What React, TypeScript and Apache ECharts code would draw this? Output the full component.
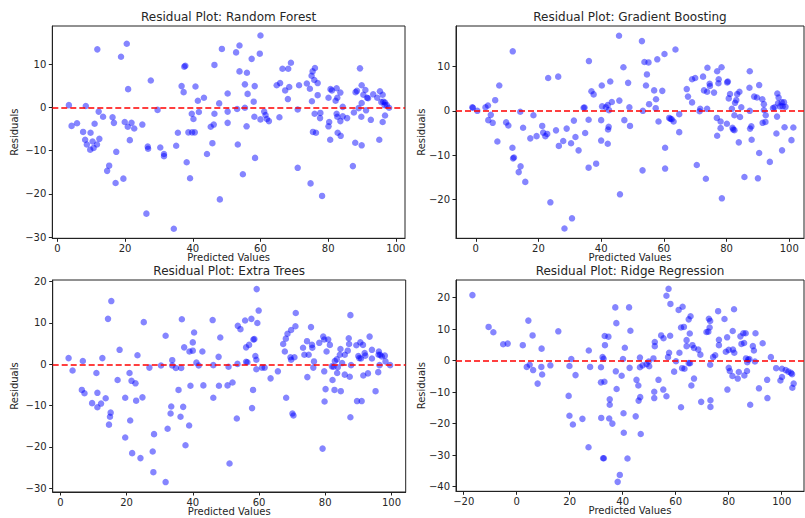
import React, { useEffect, useRef } from 'react';
import * as echarts from 'echarts';

const titles = [
  'Residual Plot: Random Forest',
  'Residual Plot: Gradient Boosting',
  'Residual Plot: Extra Trees',
  'Residual Plot: Ridge Regression',
];
const xLabel = 'Predicted Values';
const yLabel = 'Residuals';

const xTicksStd = [0, 20, 40, 60, 80, 100];
const xTicksRidge = [-20, 0, 20, 40, 60, 80, 100];
const yTicksRF = [-30, -20, -10, 0, 10];
const yTicksGB = [-20, -10, 0, 10];
const yTicksET = [-30, -20, -10, 0, 10, 20];
const yTicksRR = [-40, -30, -20, -10, 0, 10, 20];

const rfPoints = [
  [3.4, 0.5], [4.2, -4.3], [5.8, -3.7], [8.4, 0.3], [7.6, -5.7], [8.2, -7.5], [8.7, -8.6], [9.8, -5.9],
  [9.7, -9.8], [10.4, -7.9], [10.7, -9.4], [11.0, -3.8], [11.7, -8.6], [12.4, -7.3], [11.8, 13.4], [12.2, -1.0],
  [13.5, -2.2], [16.3, -2.3], [16.7, -3.6], [14.7, -14.7], [15.3, -13.5], [17.4, -10.3], [17.2, -17.5], [18.8, 11.7],
  [20.5, 14.7], [20.9, 4.2], [19.9, -3.4], [20.8, -4.5], [21.4, -7.6], [21.9, -3.6], [22.7, -4.9], [19.5, -16.5],
  [25.1, -4.0], [27.6, 6.2], [26.7, -9.1], [26.8, -9.6], [26.3, -24.6], [29.6, -0.6], [30.4, -9.3], [31.5, -10.8],
  [31.5, -11.3], [34.4, -28.1], [35.1, -8.9], [35.6, -5.9], [36.7, 4.9], [37.3, 3.5], [37.8, 9.6], [37.5, 9.4],
  [38.2, -12.7], [39.2, -16.4], [38.7, -5.8], [39.8, -5.8], [40.6, -5.8], [39.7, -1.5], [40.2, -2.7], [40.8, 4.8],
  [41.5, 1.5], [41.8, -1.1], [43.3, 2.2], [44.2, -10.8], [45.3, -4.5], [46.2, -4.0], [45.8, -8.3], [46.4, -1.5],
  [46.4, 9.8], [48.0, -21.3], [47.8, 0.9], [48.6, 13.5], [50.3, 3.2], [50.3, -1.0], [50.3, -3.6],
  [52.8, 12.7], [53.8, 14.3], [53.8, 8.3], [53.1, -0.4], [53.3, -8.6], [54.8, -15.5], [55.4, 5.3], [56.0, 8.0],
  [56.2, 3.1], [55.4, -0.1], [55.9, -4.4], [57.4, 11.2], [58.0, 1.3], [58.3, 4.9], [58.2, -2.2], [58.4, -11.7],
  [59.8, 12.4], [60.0, 16.6], [60.0, -2.8], [61.1, -1.0], [61.5, -1.8], [61.9, -2.7], [62.5, -3.2], [64.8, 5.1],
  [65.8, 5.6], [65.6, -2.3], [66.5, 8.9], [67.3, 3.9], [68.2, 8.9], [69.0, 10.3], [68.5, 4.7], [68.1, 1.9],
  [71.0, -0.5], [71.4, 5.1], [71.0, -14.0], [73.7, 5.5], [74.6, 4.3], [75.1, 7.3], [75.4, 8.3], [76.1, 9.1],
  [75.9, 6.3], [76.9, 5.6], [75.2, 1.4], [76.0, -1.5], [77.7, -1.3], [77.6, -2.5], [76.9, 2.8], [75.5, -5.7],
  [76.4, -5.9], [74.8, -17.6], [78.2, -20.5], [80.1, 2.2], [80.7, 4.2], [81.1, 3.9], [82.2, 1.5], [82.5, 4.4],
  [82.7, 2.2], [83.6, 3.4], [80.3, -3.4], [80.1, -4.4], [80.6, -7.5], [82.5, -1.5], [82.7, -2.2], [83.6, -3.2],
  [84.3, 0.1], [84.3, -2.1], [82.8, -5.9], [83.7, -6.6], [85.6, -2.5], [87.3, -13.6], [87.6, -1.2], [88.1, 3.5],
  [88.5, 3.8], [88.0, -8.2], [89.4, 9.0], [89.0, -0.2], [89.9, 1.0], [89.8, -2.2], [89.9, -8.8], [89.9, 5.1],
  [91.0, 4.0], [90.4, 2.9], [91.2, -0.7], [91.5, 2.2], [91.8, 2.1], [92.6, -2.9], [93.3, 3.0], [94.5, 2.2],
  [95.3, 3.7], [96.1, 2.9], [95.7, 1.2], [96.8, -1.9], [95.1, -7.5], [96.1, -3.4], [96.3, 1.3], [96.8, 1.1],
  [97.3, 0.5], [98.0, -0.1], [96.7, 0.5],
];

const gbPoints = [
  [-1.1, 0.8], [-0.9, 0.7], [0.5, 0.0], [3.1, 0.8], [3.9, 1.2], [4.0, -2.1], [4.8, -0.9], [5.4, -2.7],
  [6.2, 2.4], [6.9, -6.9], [7.5, 5.7], [9.7, -2.6], [10.4, -3.3], [11.8, 13.4], [11.7, -8.3], [12.2, -10.5],
  [11.9, -10.7], [14.2, -0.2], [15.1, -3.8], [13.7, -13.8], [14.3, -12.5], [15.8, -16.0], [18.4, -1.0], [17.4, -6.2],
  [19.4, -5.7], [21.2, -3.4], [21.5, -4.9], [22.2, -5.7], [22.8, -5.2], [23.1, 7.4], [26.3, 7.7], [23.8, -20.6],
  [25.6, -4.4], [26.5, -7.9], [27.9, -6.8], [29.0, -4.0], [30.4, -7.3], [31.3, -2.2], [31.8, -5.9], [32.8, -8.9],
  [28.3, -26.5], [30.7, -24.2], [34.4, 0.7], [34.7, 0.75], [34.9, -5.0], [36.0, -2.0], [36.0, -12.8], [36.1, 11.2],
  [36.9, 4.4], [37.6, 3.7], [38.4, -11.9], [40.2, 5.7], [40.0, -2.1], [40.0, -6.7], [40.3, 1.0], [41.5, 0.8],
  [42.1, 1.3], [42.5, 0.15], [42.2, -4.2], [42.4, -3.6], [42.1, -7.4], [42.9, 6.6], [43.4, 2.0], [45.7, 16.9],
  [45.8, 2.3], [46.0, -18.8], [47.1, 9.8], [47.4, -2.1], [48.6, 6.3], [49.0, 0.8], [49.2, -3.4],
  [53.0, 15.7], [53.2, -13.4], [53.8, 11.0], [55.1, 10.9], [54.3, 5.7], [54.6, 8.2], [53.3, 0.0], [55.3, 1.5],
  [56.9, 4.6], [57.5, 2.6], [57.4, 0.6], [57.9, 11.6], [58.3, -2.4], [59.5, 4.5], [60.2, 12.8], [60.4, -8.3],
  [60.4, -13.0], [61.7, -1.6], [62.1, -1.8], [62.5, -1.9], [63.1, -2.4], [63.7, 13.8], [64.9, -0.75], [64.9, -4.8],
  [67.3, 4.9], [67.7, 3.2], [69.0, 1.9], [69.0, 7.1], [70.0, 7.4], [70.5, -12.2], [71.4, -0.1], [71.6, 0.45],
  [72.5, 7.7], [72.8, 4.6], [73.8, 4.3], [73.9, 9.7], [73.8, 0.45], [73.4, -15.3], [74.6, 6.1], [74.7, 5.6],
  [76.0, 4.1], [76.9, -1.6], [77.0, 8.9], [77.5, 7.1], [77.4, 6.2], [78.1, -2.4], [78.1, -3.9], [77.0, -5.6],
  [78.4, 9.8], [78.5, -19.7], [80.1, -2.9], [80.4, 6.6], [80.2, 6.4], [80.7, 2.8], [81.1, 3.8], [81.7, 0.45],
  [81.9, -3.8], [82.1, -4.2], [82.5, -4.35], [82.5, -1.0], [82.7, 1.8], [83.1, 2.4], [83.4, 3.75], [84.1, 4.3],
  [84.3, -1.4], [83.9, -7.1], [84.7, 0.8], [85.7, -14.9], [87.3, 5.2], [87.4, 8.9], [87.4, 0.0], [87.5, -4.0],
  [87.9, -3.5], [88.0, -6.5], [88.8, 3.2], [89.7, 3.0], [90.4, 5.8], [90.0, -15.2], [90.4, -9.5], [91.4, 2.6],
  [91.9, 1.5], [91.9, 0.2], [92.5, -1.0], [92.4, -2.5], [91.5, -2.7], [93.8, -11.5], [94.8, 0.6], [95.3, 0.8],
  [96.1, -1.3], [95.9, -5.1], [96.2, 3.9], [96.6, 3.0], [96.4, 1.7], [97.1, 1.0], [97.6, 1.9], [98.3, 1.95],
  [97.9, 1.0], [98.8, 0.9], [97.7, -8.9], [98.5, -3.7], [100.7, -6.6], [101.3, -3.75],
];

const etPoints = [
  [2.5, 1.5], [3.7, -1.5], [6.5, -6.2], [6.8, 0.8], [7.3, -7.0], [9.6, -9.4], [10.9, -2.1], [11.2, -6.9],
  [11.2, -10.4], [12.3, -9.5], [12.7, 1.5], [13.7, -8.2], [14.4, 11.0], [15.4, 15.3], [14.7, -14.6], [15.0, -12.7],
  [15.2, -11.7], [17.3, -3.8], [17.9, 3.5], [19.6, -8.1], [19.6, -17.7], [20.9, -2.1], [21.1, -13.6], [21.5, -4.0],
  [21.7, -21.5], [22.7, -4.6], [22.9, -8.8], [23.3, 2.2], [24.2, -22.7], [24.8, -8.0], [25.2, 10.2], [26.9, -0.8],
  [27.9, -21.1], [28.3, -16.9], [28.1, -26.1], [30.4, -0.3], [31.8, 6.9], [32.4, -15.6], [31.8, -28.5], [33.5, -10.2],
  [33.3, -11.9], [33.8, 1.0], [33.8, -0.3], [34.9, -0.9], [35.7, -6.2], [36.5, -0.9], [36.3, -12.7], [36.7, 10.9],
  [37.1, -10.3], [37.4, 4.1], [37.8, -19.6], [39.0, 3.1], [38.9, -14.8], [39.3, -5.2], [40.0, 5.3], [40.4, 7.7],
  [40.0, 3.3], [41.1, 0.4], [41.8, -0.3], [42.9, 3.1], [43.2, -5.1], [46.0, 10.7], [46.2, -0.2], [46.2, -8.1],
  [47.8, 1.8], [47.9, -5.2], [48.3, 6.5], [50.5, -5.1], [50.8, -0.6], [51.1, -24.0],
  [52.0, -4.4], [53.3, -13.1], [53.5, 0.1], [53.6, 9.3], [54.4, 8.5], [55.8, 10.6], [56.1, 4.1], [56.1, 0.6],
  [56.5, 0.5], [57.0, 4.7], [57.7, 11.0], [58.3, 6.0], [58.6, 6.1], [58.2, -6.2], [57.9, -10.6], [58.9, 2.0],
  [59.2, 1.1], [59.2, -1.2], [59.5, 10.0], [59.3, 18.2], [59.9, 13.0], [60.9, -0.8], [61.7, -0.8], [63.5, -3.4],
  [65.7, -1.7], [67.3, 4.9], [67.8, 3.1], [68.1, 6.2], [68.2, -8.1], [68.6, 7.4], [69.7, 8.3], [69.5, 1.7],
  [69.7, 1.1], [70.1, -11.9], [70.4, -12.4], [70.7, 1.7], [71.0, 9.2], [71.1, 12.4], [73.3, 4.0], [73.7, 2.3],
  [74.5, 5.6], [74.6, -3.1], [75.0, 2.3], [75.7, 9.0], [76.0, 4.7], [76.1, 4.0], [76.4, -0.8], [76.6, 0.7],
  [78.2, 5.2], [79.2, -20.4], [79.4, 6.7], [79.7, 6.0], [79.7, -1.7], [79.8, -9.0], [80.1, -6.0], [80.4, 3.1],
  [80.9, 6.0], [81.4, 4.7], [82.0, -0.5], [82.2, -3.8], [82.5, -0.6], [82.8, -6.2], [82.9, 0.8], [83.5, 1.2],
  [83.6, -2.1], [83.8, -0.7], [84.4, 2.3], [84.6, 3.7], [84.7, -6.5], [85.1, 0.3], [85.9, -2.5], [85.9, 2.3],
  [86.8, 3.3], [87.1, 6.3], [87.2, 4.9], [87.4, -3.0], [87.6, 11.9], [87.6, -12.8], [87.8, -0.2], [89.4, 4.6],
  [89.6, -8.9], [90.0, 2.0], [90.6, 5.3], [90.3, 1.5], [90.8, 1.4], [91.0, -8.9], [91.4, 4.7], [91.5, -2.7],
  [91.9, 2.7], [92.1, 2.1], [92.9, -2.2], [93.4, 6.7], [94.1, 3.5], [94.1, 1.4], [95.2, -6.5], [96.0, -1.9],
  [96.2, 3.1], [96.1, 2.3], [96.4, -0.2], [97.1, 1.9], [96.6, 2.3], [98.0, 2.1], [98.2, 0.7], [99.6, -0.2],
];

const rrPoints = [
  [-16.7, 20.8], [-10.6, 10.7], [-8.8, 9.0], [-5.1, 5.2], [-3.4, 5.4], [2.3, 4.9], [4.4, 12.7], [6.0, 8.0],
  [9.4, 3.8], [3.8, -2.0], [4.9, -1.3], [6.2, -3.0], [9.3, -2.0], [9.6, -4.4], [7.9, -7.3], [12.7, -1.5],
  [15.7, 9.3], [20.6, 0.5], [19.9, -1.7], [22.2, -4.6], [19.6, -11.2], [19.9, -17.5], [21.2, -20.3], [24.8, -18.5],
  [27.2, 3.2], [27.7, -2.0], [27.1, -27.5], [31.8, -2.1], [31.8, -6.9], [33.1, -6.7], [31.9, -18.2], [32.4, 1.1],
  [32.8, 0.6], [32.6, -31.0], [32.9, -31.0], [33.2, 7.8], [34.6, 7.6], [33.3, 4.9], [35.1, -12.3], [35.1, -14.0],
  [34.9, -18.4], [36.1, -20.0], [37.2, 16.9], [37.6, 11.9], [37.4, -3.4], [37.7, -9.0], [38.1, -38.5], [38.9, -36.3],
  [39.6, -4.8], [40.1, 0.5], [40.4, -22.9], [40.3, -16.7], [40.8, 4.1], [41.8, -31.1], [42.4, 16.9], [42.6, -2.3],
  [42.9, 9.5],
  [44.9, -17.7], [45.2, -6.1], [45.9, -7.9], [46.6, -11.6], [46.0, -12.7], [46.5, 0.95], [46.5, -2.1], [46.8, -23.3],
  [47.5, -1.5], [49.0, -1.1], [49.8, -0.3], [50.0, -1.8], [51.6, 0.7], [51.9, -11.9], [51.9, -9.9], [52.1, 5.9],
  [52.1, 4.6], [53.5, -6.1], [54.5, 8.0], [55.4, 7.1], [55.3, -9.2], [56.5, -11.3], [56.5, 20.6], [57.3, 22.8],
  [58.0, 18.0], [57.9, 7.9], [57.5, 2.5], [57.1, 1.1], [59.4, -3.5], [60.1, -0.2], [61.1, 16.1], [61.4, 2.5],
  [62.0, 10.5], [62.6, 17.1], [63.1, 10.7], [62.0, -14.8], [62.4, -2.4], [63.3, -2.6], [64.1, 6.5], [64.1, 4.6],
  [64.9, 13.1], [65.6, 14.1], [65.3, 8.6], [64.9, -0.8], [65.4, -0.8], [66.3, 4.9], [66.9, -5.7], [65.9, -7.9],
  [66.9, 4.0], [68.5, 3.5], [69.3, 1.9], [69.6, -13.1], [71.6, 9.1], [72.3, 9.2], [72.5, 13.3], [73.0, 12.6],
  [72.8, 10.5], [73.0, -1.3], [73.1, -12.6], [73.1, -14.7], [74.1, 1.1], [74.9, 1.7], [76.0, 15.7], [76.3, 6.6],
  [76.3, 4.9], [78.4, 13.2], [78.9, 2.8], [79.4, 7.4], [79.5, -9.2], [80.0, 3.4], [80.0, -2.3], [80.4, -3.3],
  [81.4, -4.9], [81.5, 9.4], [82.0, 16.3], [81.6, 3.5], [82.1, 2.5], [83.4, -5.7], [83.8, -3.6], [84.4, 7.7],
  [84.8, 5.3], [85.5, 8.7], [85.8, 5.6], [86.4, 8.7], [85.9, -4.7], [86.5, 0.7], [86.9, -3.3], [87.0, -0.5],
  [87.3, 0.3], [88.1, -14.0], [87.8, 0.5], [89.1, 4.6], [89.5, 3.2], [89.9, -0.3], [90.1, 8.7], [91.4, -8.8],
  [92.8, 5.5], [94.6, -11.9], [94.5, -6.1], [95.9, 1.1], [97.9, -2.4], [99.5, -6.3], [100.1, -2.6], [100.1, -5.2],
  [101.5, -3.0], [102.5, -3.5], [103.5, -3.9], [103.9, -4.3], [104.5, -7.3], [104.0, -8.6],
];

const FONT = 'DejaVu Sans';
const TXT = '#262626';

const panels = [
  { data: rfPoints, xTicks: xTicksStd, yTicks: yTicksRF, box: [52.3, 26, 405, 238.3], xr: [-1.5, 102.7], yr: [-30.3, 18.8] },
  { data: gbPoints, xTicks: xTicksStd, yTicks: yTicksGB, box: [456, 26, 804, 238.3], xr: [-6.3, 104.7], yr: [-28.7, 19.1] },
  { data: etPoints, xTicks: xTicksStd, yTicks: yTicksET, box: [52.7, 280, 405.7, 492], xr: [-2.3, 104.3], yr: [-30.9, 20.4] },
  { data: rrPoints, xTicks: xTicksRidge, yTicks: yTicksRR, box: [456, 280, 804, 491.3], xr: [-22.9, 108.4], yr: [-41.5, 25.6] },
];

const fmt = (v: number) => (v < 0 ? '\u2212' + Math.abs(v) : String(v));

export default function App() {
  const ref = useRef<HTMLDivElement>(null);
  useEffect(() => {
    if (!ref.current) return;
    const chart = echarts.init(ref.current, undefined, { renderer: 'svg' });
    const grids = panels.map((p) => ({
      left: p.box[0],
      top: p.box[1],
      width: p.box[2] - p.box[0],
      height: p.box[3] - p.box[1],
      show: true,
      borderColor: '#222',
      borderWidth: 1,
      backgroundColor: 'transparent',
    }));
    const axisCommon = {
      type: 'value',
      splitLine: { show: false },
      axisLine: { show: true, onZero: false, lineStyle: { color: '#222', width: 1 } },
    };
    const xAxes = panels.map((p, i) => ({
      ...axisCommon,
      gridIndex: i,
      min: p.xr[0],
      max: p.xr[1],
      axisTick: { show: true, length: 3.5, lineStyle: { color: '#222' }, customValues: p.xTicks },
      axisLabel: { customValues: p.xTicks, formatter: fmt, fontSize: 10, color: TXT, fontFamily: FONT, margin: 5 },
    }));
    const yAxes = panels.map((p, i) => ({
      ...axisCommon,
      gridIndex: i,
      min: p.yr[0],
      max: p.yr[1],
      axisTick: { show: true, length: 3.5, lineStyle: { color: '#222' }, customValues: p.yTicks },
      axisLabel: { customValues: p.yTicks, formatter: fmt, fontSize: 10, color: TXT, fontFamily: FONT, margin: 6 },
    }));
    const series = panels.map((p, i) => ({
      type: 'scatter',
      xAxisIndex: i,
      yAxisIndex: i,
      data: p.data,
      symbolSize: 6.5,
      itemStyle: { color: 'rgba(0,0,255,0.6)' },
      markLine: {
        silent: true,
        symbol: ['none', 'none'],
        label: { show: false },
        lineStyle: { color: '#ff0000', type: [6, 3], width: 1.5 },
        data: [{ yAxis: 0 }],
      },
    }));
    const graphic: any[] = [];
    panels.forEach((p, i) => {
      const cx = (p.box[0] + p.box[2]) / 2;
      const cy = (p.box[1] + p.box[3]) / 2;
      graphic.push({
        type: 'text',
        x: cx,
        y: p.box[1] - 9,
        style: { text: titles[i], fontSize: 12, fontFamily: FONT, fill: TXT, align: 'center', verticalAlign: 'middle' },
      });
      graphic.push({
        type: 'text',
        x: cx,
        y: p.box[3] + 19.5,
        style: { text: xLabel, fontSize: 10, fontFamily: FONT, fill: TXT, align: 'center', verticalAlign: 'middle' },
      });
      graphic.push({
        type: 'text',
        x: i % 2 === 0 ? 14 : 421,
        y: cy,
        rotation: Math.PI / 2,
        style: { text: yLabel, fontSize: 10, fontFamily: FONT, fill: TXT, align: 'center', verticalAlign: 'middle' },
      });
    });
    chart.setOption({
      animation: false,
      backgroundColor: '#ffffff',
      grid: grids,
      xAxis: xAxes,
      yAxis: yAxes,
      series,
      graphic,
    });
    return () => chart.dispose();
  }, []);
  return <div ref={ref} style={{ position: 'absolute', left: 0, top: 0, width: 805, height: 518 }} />;
}
